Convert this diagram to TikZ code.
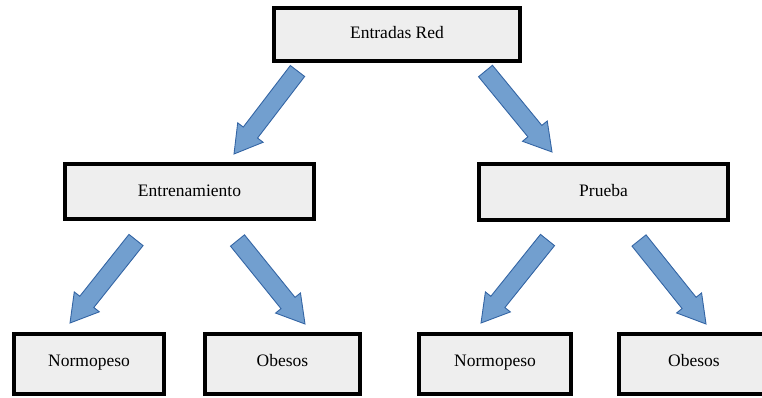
\documentclass[tikz,border=0pt]{standalone}
\usepackage{fontspec}
\setmainfont{Liberation Serif}
\usetikzlibrary{calc}
\definecolor{boxfill}{HTML}{EEEEEE}
\definecolor{arrowfill}{HTML}{729FCF}
\definecolor{arrowline}{HTML}{3465A4}
\tikzset{
  stage/.style={draw=black, line width=4pt, fill=boxfill, inner sep=0pt,
    font=\fontsize{17.5}{21}\selectfont, text height=12pt, text depth=3pt},
  leaf/.style={stage, minimum height=60pt, text depth=8pt},
  barrow/.style={fill=arrowfill, draw=arrowline, line width=0.9pt, line join=miter},
}
% block arrow from a tail point #1 to a tip point #2
\newcommand\blockarrow[2]{%
  \coordinate (hb) at ($(#2)!27pt!(#1)$);
  \path[barrow] ($(#1)!9pt!90:(#2)$) -- ($(hb)!9pt!90:(#2)$) -- ($(hb)!16pt!90:(#2)$)
    -- (#2) -- ($(hb)!16pt!-90:(#2)$) -- ($(hb)!9pt!-90:(#2)$) -- ($(#1)!9pt!-90:(#2)$) -- cycle;}

\begin{document}
\begin{tikzpicture}[x=1pt,y=-1pt]
\useasboundingbox (0,0) rectangle (762,398);

% boxes
\node[stage, minimum width=246pt, minimum height=53pt] (red) at (397,34.5) {Entradas Red};
\node[stage, minimum width=249pt, minimum height=55pt] (train) at (189.5,191.5) {Entrenamiento};
\node[stage, minimum width=249pt, minimum height=55pt] (test) at (603.5,192) {Prueba};
\node[leaf, minimum width=150pt] (tn) at (89,364) {Normopeso};
\node[leaf, minimum width=155pt] (to) at (282.5,364) {Obesos};
\node[leaf, minimum width=152pt] (pn) at (495,364) {Normopeso};
\node[leaf, minimum width=150pt] (po) at (694,364) {Obesos};

% arrow ends
\coordinate (a1s) at (297.5,71);  \coordinate (a1e) at (234,154);
\coordinate (a2s) at (485.5,71);  \coordinate (a2e) at (552,152);
\coordinate (a3s) at (136,240);   \coordinate (a3e) at (70,323);
\coordinate (a4s) at (237.5,240.5); \coordinate (a4e) at (305,324);
\coordinate (a5s) at (547.5,240); \coordinate (a5e) at (481,323);
\coordinate (a6s) at (639,240.5); \coordinate (a6e) at (706,324);

\blockarrow{a1s}{a1e}
\blockarrow{a2s}{a2e}
\blockarrow{a3s}{a3e}
\blockarrow{a4s}{a4e}
\blockarrow{a5s}{a5e}
\blockarrow{a6s}{a6e}
\end{tikzpicture}
\end{document}
